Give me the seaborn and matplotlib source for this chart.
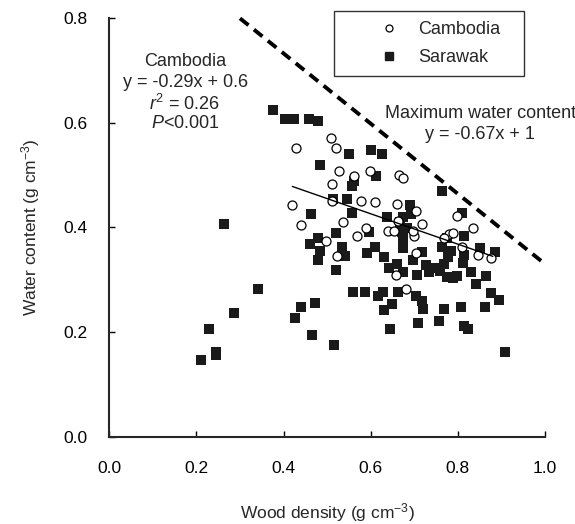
import numpy as np
import pandas as pd
import matplotlib
matplotlib.use("Agg")
import matplotlib.pyplot as plt
import seaborn as sns
from matplotlib.lines import Line2D

# --- data ---
sar_x = [0.211, 0.228, 0.246, 0.245, 0.263, 0.286, 0.341, 0.376, 0.404, 0.423,
         0.458, 0.478, 0.427, 0.440, 0.463, 0.461, 0.472, 0.466, 0.484, 0.480,
         0.483, 0.480, 0.513, 0.521, 0.521, 0.515, 0.534, 0.540, 0.545, 0.549,
         0.557, 0.559, 0.561, 0.557, 0.586, 0.591, 0.597, 0.601, 0.625, 0.612,
         0.609, 0.616, 0.628, 0.631, 0.630, 0.637, 0.641, 0.648, 0.645, 0.660,
         0.662, 0.666, 0.671, 0.673, 0.673, 0.675, 0.683, 0.689, 0.692, 0.675,
         0.696, 0.707, 0.704, 0.708, 0.717, 0.717, 0.721, 0.727, 0.734, 0.746,
         0.759, 0.763, 0.757, 0.767, 0.763, 0.769, 0.774, 0.777, 0.776, 0.784,
         0.788, 0.797, 0.808, 0.809, 0.813, 0.813, 0.813, 0.811, 0.824, 0.829,
         0.841, 0.851, 0.861, 0.864, 0.875, 0.885, 0.895, 0.908]
sar_y = [0.147, 0.207, 0.163, 0.156, 0.407, 0.237, 0.283, 0.625, 0.607, 0.607,
         0.607, 0.603, 0.227, 0.248, 0.425, 0.369, 0.256, 0.194, 0.519, 0.379,
         0.355, 0.337, 0.455, 0.390, 0.318, 0.176, 0.362, 0.345, 0.455, 0.541,
         0.428, 0.277, 0.489, 0.479, 0.277, 0.351, 0.392, 0.547, 0.541, 0.499,
         0.363, 0.269, 0.277, 0.343, 0.243, 0.420, 0.323, 0.254, 0.207, 0.330,
         0.277, 0.411, 0.392, 0.361, 0.315, 0.419, 0.399, 0.443, 0.425, 0.379,
         0.337, 0.310, 0.270, 0.218, 0.353, 0.259, 0.245, 0.329, 0.315, 0.323,
         0.316, 0.470, 0.222, 0.245, 0.362, 0.330, 0.379, 0.344, 0.305, 0.355,
         0.304, 0.307, 0.248, 0.428, 0.383, 0.348, 0.211, 0.332, 0.207, 0.315,
         0.292, 0.361, 0.248, 0.307, 0.275, 0.353, 0.262, 0.162]

cam_x = [0.420, 0.429, 0.440, 0.497, 0.508, 0.521, 0.511, 0.526, 0.511, 0.536,
         0.523, 0.561, 0.569, 0.578, 0.589, 0.599, 0.609, 0.639, 0.654, 0.660,
         0.657, 0.665, 0.673, 0.681, 0.700, 0.698, 0.704, 0.717, 0.704, 0.662,
         0.780, 0.788, 0.797, 0.809, 0.834, 0.845, 0.876, 0.767]
cam_y = [0.443, 0.552, 0.404, 0.374, 0.570, 0.552, 0.482, 0.508, 0.450, 0.411,
         0.345, 0.498, 0.383, 0.450, 0.399, 0.507, 0.449, 0.393, 0.393, 0.445,
         0.309, 0.500, 0.494, 0.283, 0.383, 0.393, 0.431, 0.407, 0.352, 0.412,
         0.388, 0.390, 0.422, 0.362, 0.398, 0.348, 0.342, 0.380]

cam_fit = {"slope": -0.29, "intercept": 0.6, "xmin": 0.42, "xmax": 0.88}
max_fit = {"slope": -0.67, "intercept": 1.0, "xmin": 0.3, "xmax": 1.0}

x_ticks = [0.0, 0.2, 0.4, 0.6, 0.8, 1.0]
y_ticks = [0.0, 0.2, 0.4, 0.6, 0.8]

# --- style ---
sns.set_style("ticks")
plt.rcParams["font.family"] = ["Liberation Sans", "DejaVu Sans"]
plt.rcParams["mathtext.fontset"] = "custom"
plt.rcParams["mathtext.rm"] = "Liberation Sans"
plt.rcParams["mathtext.it"] = "Liberation Sans:italic"
plt.rcParams["axes.linewidth"] = 1.5

fig = plt.figure(figsize=(5.75, 5.24), dpi=100)
ax = fig.add_axes([0.190, 0.166, 0.758, 0.800])

sar = pd.DataFrame({"x": sar_x, "y": sar_y})
cam = pd.DataFrame({"x": cam_x, "y": cam_y})

sns.scatterplot(data=sar, x="x", y="y", marker="s", s=52, color="#1a1a1a",
                edgecolor="#1a1a1a", linewidth=0, ax=ax, zorder=3)
sns.scatterplot(data=cam, x="x", y="y", marker="o", s=42, facecolor="white",
                edgecolor="black", linewidth=0.9, ax=ax, zorder=4)

fx = np.array([cam_fit["xmin"], cam_fit["xmax"]])
sns.lineplot(x=fx, y=cam_fit["slope"] * fx + cam_fit["intercept"], color="black",
             linewidth=1.0, ax=ax, zorder=5)
mx = np.array([max_fit["xmin"], max_fit["xmax"]])
ax.plot(mx, max_fit["slope"] * mx + max_fit["intercept"], color="black",
        linewidth=2.8, dashes=(2.8, 1.8), zorder=5, clip_on=False)

ax.set_xlim(0, 1.0)
ax.set_ylim(0, 0.8)
ax.set_xticks(x_ticks)
ax.set_yticks(y_ticks)
ax.set_xticklabels([f"{v:.1f}" for v in x_ticks])
ax.set_yticklabels([f"{v:.1f}" for v in y_ticks])
ax.tick_params(axis="both", direction="in", length=4, width=1.0, labelsize=12.5,
               colors="black")
ax.tick_params(axis="x", pad=17)
ax.tick_params(axis="y", pad=16)
sns.despine(ax=ax)

ax.set_xlabel("Wood density (g cm$^{-3}$)", fontsize=12.5, labelpad=18)
ax.set_ylabel("Water content (g cm$^{-3}$)", fontsize=12.5, labelpad=15)

tk = dict(ha="center", va="center", fontsize=13)
ax.text(0.174, 0.716, "Cambodia", **tk)
ax.text(0.174, 0.677, "y = -0.29x + 0.6", **tk)
ax.text(0.174, 0.636, "$\\it{r}^{2}$ = 0.26", **tk)
ax.text(0.174, 0.599, "$\\it{P}$<0.001", **tk)
ax.text(0.851, 0.618, "Maximum water content", **tk)
ax.text(0.851, 0.577, "y = -0.67x + 1", **tk)

handles = [
    Line2D([], [], linestyle="none", marker="o", markersize=5, markerfacecolor="white",
           markeredgecolor="black", markeredgewidth=0.9, label="Cambodia"),
    Line2D([], [], linestyle="none", marker="s", markersize=5.2, markerfacecolor="#1a1a1a",
           markeredgecolor="#1a1a1a", label="Sarawak"),
]
leg = ax.legend(handles=handles, loc="upper left", bbox_to_anchor=(0.516, 0.0, 0.436, 1.016),
                mode="expand", frameon=True, fancybox=False, edgecolor="black",
                fontsize=13, borderpad=0.55, labelspacing=0.62, handletextpad=-0.9,
                borderaxespad=0, handlelength=5.0)
leg.get_frame().set_linewidth(1.0)

fig.savefig("out.png", dpi=100)
